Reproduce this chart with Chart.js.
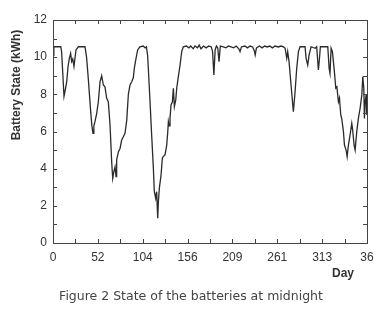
<!DOCTYPE html>
<html>
<head>
<meta charset="utf-8">
<script src="https://cdn.jsdelivr.net/npm/chart.js@4"></script>
<style>
  html, body { margin: 0; padding: 0; background: #fff; }
  #wrap { width: 381px; height: 314px; }
</style>
</head>
<body>
<div id="wrap"><canvas id="chart" width="381" height="314"></canvas></div>
<script>
// battery state (day, kWh)
const days = [
  0, 1, 9, 10, 12.8, 14.5, 16, 17.5, 19, 20.5, 21.7, 23, 24.4, 26.7, 29.5, 37.2,
  39, 41, 43.8, 45.2, 46.5, 47.5, 48.8, 50.8, 52.7, 54.7, 56.6, 58.5, 60.4, 62.4,
  64.3, 66.3, 68.2, 69.4, 70.6, 72.1, 73.3, 74, 76, 78, 79.8, 81.8, 83.7, 85.7,
  87.6, 89.5, 91.5, 93.4, 94.5, 96.2, 98.4, 101, 105, 107, 108.5, 110, 110.8,
  112.8, 114.7, 116.7, 117.8, 119.4, 120.5, 121.7, 122.5, 123.6, 125.6, 127.1,
  128, 130.2, 132.2, 133.4, 134.1, 135, 136, 137.2, 138.8, 139.9, 141.1, 142.7,
  143.8, 145.7, 147.7, 149.6, 151.5, 155, 158, 160, 163, 165, 168, 170, 172, 175,
  178, 181, 184, 185.5, 187, 188.5, 190, 191.5, 193, 194.5, 198, 201, 204, 207,
  210, 213, 216, 217.4, 219, 223, 226, 229, 232, 234, 235, 236.5, 240, 243, 246,
  249, 252, 255, 258, 262, 265, 268, 269.8, 271.7, 272.8, 274.4, 276.7, 279.4,
  281.4, 283.3, 285.3, 287.2, 293, 294.2, 296.1, 297.7, 300, 304.7, 306.5, 308.5,
  309.7, 310.8, 319.4, 321, 322, 323.3, 324.8, 327.1, 328.7, 330, 331.8, 333,
  334.5, 335.6, 337.6, 338.8, 340.7, 341.9, 343.4, 345.3, 347.3, 348.3, 350,
  351.2, 353.1, 355, 357, 359, 360.1, 361.3, 362, 362.8, 364, 364.6
];
const battery = [
  10.1, 10.56, 10.56, 10.3, 7.9, 8.3, 8.7, 9.5, 9.94, 10.2, 9.76, 9.9, 9.5, 10.39, 10.56, 10.56,
  10.0, 8.86, 7.07, 6.3, 5.9, 6.3, 6.53, 6.98, 7.6, 8.68, 9.0, 8.5, 8.4, 7.79,
  7.6, 6.35, 4.38, 3.48, 3.8, 4.1, 3.57, 4.47, 4.9, 5.1, 5.54, 5.72, 5.9, 6.6,
  8.0, 8.5, 8.68, 8.9, 9.4, 9.85, 10.39, 10.56, 10.6, 10.5, 10.56, 10.1, 9.4,
  7.6, 5.8, 4.0, 2.76, 2.4, 2.76, 1.33, 2.22, 2.94, 3.66, 4.56,
  4.65, 4.74, 5.27, 5.99, 6.53, 6.3, 6.71, 7.43, 7.6, 8.33, 7.34, 7.7,
  8.33, 8.95, 9.58, 10.3, 10.56, 10.6, 10.5, 10.6, 10.45, 10.6, 10.5, 10.65, 10.45, 10.6,
  10.5, 10.6, 10.55, 10.3, 9.04, 10.4, 10.6, 10.5, 9.76, 10.6, 10.55, 10.5, 10.6, 10.55,
  10.5, 10.6, 10.45, 10.3, 10.55, 10.6, 10.5, 10.6, 10.55, 10.35, 10.12, 10.5, 10.6, 10.5, 10.6,
  10.55, 10.6, 10.5, 10.6, 10.55, 10.6, 10.55, 10.48, 9.94, 10.3, 9.76, 8.5, 7.07,
  8.14, 9.4, 10.3, 10.56, 10.56, 9.94, 9.58, 10.12, 10.56, 10.48, 10.56, 9.31,
  9.9, 10.56, 10.56, 9.4, 9.13, 10.48, 10.3, 9.22, 8.33, 8.4, 7.6, 7.8,
  6.89, 6.7, 5.99, 5.27, 5.0, 4.65, 5.27, 5.81, 6.44, 6.1, 5.27,
  5.0, 5.99, 6.71, 7.25, 7.97, 8.95, 8.33, 6.7, 7.6, 7.97, 6.9
];

const xTickValues = [0, 1, 2, 3, 4, 5, 6, 7].map(i => i * 365 / 7);
const xTickLabels = ['0', '52', '104', '156', '209', '261', '313', '36'];
const yTickValues = [0, 2, 4, 6, 8, 10, 12];

const points = days.map((d, i) => ({ x: d, y: battery[i] }));

const FONT = 'Liberation Sans, Arial, sans-serif';

// box, inward ticks on all four sides, and the free-standing texts
const frame = {
  id: 'frame',
  afterDraw(chart) {
    const { ctx, chartArea: a, scales: { x, y } } = chart;
    ctx.save();
    ctx.strokeStyle = '#444';
    ctx.lineWidth = 1;
    ctx.strokeRect(Math.round(a.left) + 0.5, Math.round(a.top) + 0.5,
      Math.round(a.right - a.left), Math.round(a.bottom - a.top));

    ctx.beginPath();
    for (let i = 1; i < 14; i++) {
      const px = Math.round(x.getPixelForValue(i * 365 / 14)) + 0.5;
      ctx.moveTo(px, a.bottom); ctx.lineTo(px, a.bottom - 4);
      ctx.moveTo(px, a.top); ctx.lineTo(px, a.top + 4);
    }
    for (let v = 1; v < 12; v++) {
      const py = Math.round(y.getPixelForValue(v)) + 0.5;
      ctx.moveTo(a.left, py); ctx.lineTo(a.left + 4, py);
      ctx.moveTo(a.right, py); ctx.lineTo(a.right - 4, py);
    }
    ctx.stroke();

    ctx.fillStyle = '#333';
    ctx.textAlign = 'center';
    ctx.textBaseline = 'middle';
    ctx.font = 'bold 12px ' + FONT;
    ctx.fillText('Day', 343, 274);

    ctx.save();
    ctx.translate(17, 85);
    ctx.rotate(-Math.PI / 2);
    ctx.fillText('Battery State (kWh)', 0, 0);
    ctx.restore();

    ctx.fillStyle = '#444';
    ctx.font = '12.5px DejaVu Sans, sans-serif';
    ctx.fillText('Figure 2 State of the batteries at midnight', 191, 297);
    ctx.restore();
  }
};

new Chart(document.getElementById('chart'), {
  type: 'line',
  data: {
    datasets: [{
      data: points,
      borderColor: '#2a2a2a',
      borderWidth: 1.3,
      pointRadius: 0,
      tension: 0,
      fill: false
    }]
  },
  options: {
    responsive: false,
    animation: false,
    layout: { padding: { top: 20, right: 14, left: 0, bottom: 0 } },
    plugins: { legend: { display: false }, tooltip: { enabled: false } },
    scales: {
      x: {
        type: 'linear',
        min: 0,
        max: 365,
        grid: { display: false, drawTicks: false },
        border: { display: false },
        afterBuildTicks: s => { s.ticks = xTickValues.map(v => ({ value: v })); },
        afterFit: s => { s.height = 71; },
        ticks: {
          padding: 7,
          maxRotation: 0,
          autoSkip: false,
          color: '#333',
          font: { family: FONT, size: 12 },
          callback: (v, i) => xTickLabels[i]
        }
      },
      y: {
        min: 0,
        max: 12,
        grid: { display: false, drawTicks: false },
        border: { display: false },
        afterBuildTicks: s => { s.ticks = yTickValues.map(v => ({ value: v })); },
        afterFit: s => { s.width = 53; },
        ticks: {
          padding: 6,
          color: '#333',
          font: { family: FONT, size: 12 }
        }
      }
    }
  },
  plugins: [frame]
});
</script>
</body>
</html>
